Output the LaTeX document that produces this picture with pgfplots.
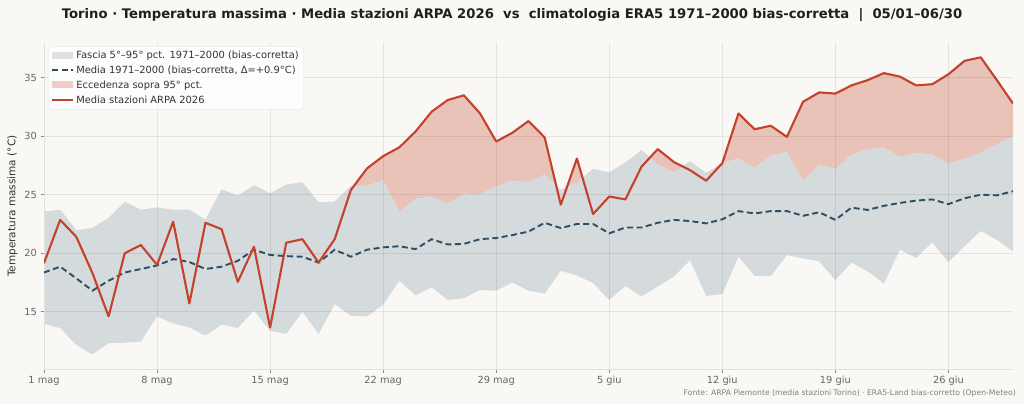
\documentclass[border=0pt]{standalone}
\usepackage{fontspec}
\setmainfont{DejaVu Sans}
\usepackage{pgfplots}
\pgfplotsset{compat=1.18}
\usepackage{pgfplotstable}
\usepgfplotslibrary{fillbetween}
\definecolor{bg}{HTML}{F9F8F5}
\definecolor{bandc}{HTML}{D5DADC}
\definecolor{pinkc}{HTML}{E9C2B8}
\definecolor{redc}{HTML}{C4422C}
\definecolor{meanc}{HTML}{2D4E64}
\definecolor{ticklab}{HTML}{666666}
\definecolor{txt}{HTML}{333333}
\pagecolor{bg}
\pgfplotstableread{
d low up mean obs
0 13.95 23.55 18.35 19.15
1 13.6 23.7 18.85 22.85
2 12.15 21.95 17.85 21.4
3 11.35 22.15 16.8 18.3
4 12.3 23.0 17.65 14.6
5 12.35 24.4 18.35 20.0
6 12.45 23.7 18.65 20.7
7 14.6 23.9 18.95 19.0
8 14.0 23.7 19.5 22.7
9 13.65 23.7 19.25 15.7
10 12.95 22.85 18.65 22.6
11 13.9 25.45 18.85 22.05
12 13.6 24.9 19.35 17.55
13 15.1 25.8 20.3 20.55
14 13.35 25.1 19.85 13.65
15 13.1 25.85 19.75 20.9
16 15.0 26.05 19.7 21.2
17 13.1 24.35 19.2 19.2
18 15.65 24.4 20.3 21.2
19 14.65 25.75 19.7 25.4
20 14.6 25.75 20.3 27.25
21 15.6 26.25 20.5 28.3
22 17.65 23.55 20.6 29.05
23 16.4 24.65 20.35 30.4
24 17.1 24.85 21.2 32.1
25 16.0 24.2 20.75 33.1
26 16.15 25.1 20.8 33.5
27 16.85 25.05 21.2 31.95
28 16.8 25.7 21.3 29.55
29 17.5 26.2 21.55 30.3
30 16.8 26.05 21.85 31.3
31 16.55 26.75 22.6 29.9
32 18.5 25.4 22.15 24.15
33 18.1 26.05 22.5 28.1
34 17.45 27.2 22.5 23.35
35 16.0 26.9 21.7 24.85
36 17.2 27.75 22.2 24.6
37 16.3 28.8 22.2 27.4
38 17.15 27.6 22.6 28.9
39 18.0 26.9 22.85 27.8
40 19.4 27.85 22.75 27.1
41 16.35 26.85 22.55 26.2
42 16.5 27.7 22.9 27.7
43 19.7 28.1 23.6 31.95
44 18.05 27.3 23.4 30.6
45 18.05 28.35 23.6 30.9
46 19.85 28.65 23.6 29.95
47 19.55 26.2 23.2 32.95
48 19.3 27.55 23.5 33.75
49 17.7 27.2 22.85 33.65
50 19.2 28.4 23.9 34.35
51 18.45 28.9 23.7 34.8
52 17.4 29.05 24.05 35.4
53 20.3 28.25 24.3 35.1
54 19.6 28.55 24.5 34.35
55 20.95 28.45 24.6 34.45
56 19.25 27.65 24.2 35.3
57 20.6 28.1 24.7 36.45
58 21.9 28.6 25.0 36.75
59 21.15 29.3 24.95 34.8
60 20.15 30.0 25.3 32.8
}\data
\pgfplotsset{
  myarea/.style={legend image code/.code={\fill[sharp corners, draw=none, ##1] (0pt,-3pt) rectangle (21pt,4pt);}},
  myline/.style={legend image code/.code={\draw[sharp corners, ##1] (0pt,0.5pt) -- (21pt,0.5pt);}},
}
\begin{document}
\begin{tikzpicture}
\path (0pt,0pt) rectangle (1024pt,404pt);
\begin{axis}[
  at={(44pt,35pt)}, anchor=south west,
  scale only axis, width=969pt, height=325.7pt,
  xmin=0, xmax=60, ymin=10.1, ymax=37.95,
  set layers,
  axis x line*=bottom, axis y line*=left,
  axis line style={draw=black!12, line width=0.8pt, -},
  xtick={0,7,14,21,28,35,42,49,56},
  xticklabels={1 mag,8 mag,15 mag,22 mag,29 mag,5 giu,12 giu,19 giu,26 giu},
  ytick={15,20,25,30,35},
  grid=major,
  grid style={draw=black, opacity=0.08, line width=0.8pt},
  tick align=outside, major tick length=3.5pt,
  tick style={draw=black!45, line width=0.8pt},
  ticklabel style={font=\fontsize{9.8}{11}\selectfont, text=ticklab},
  /pgf/number format/assume math mode=true,
  ylabel={Temperatura massima (°C)},
  ylabel style={font=\fontsize{10.5}{12}\selectfont, text=txt},
  legend cell align=left,
  legend style={at={(0,1)}, anchor=north west, xshift=4pt, yshift=-3pt,
    font=\fontsize{9.9}{11.5}\selectfont, text=txt,
    draw=black!12, fill=white, fill opacity=0.8, text opacity=1,
    rounded corners=2.5pt, inner xsep=3pt, inner ysep=2.6pt, row sep=1.9pt},
]
\addplot[draw=none, name path=up, forget plot] table[x=d, y=up] {\data};
\addplot[draw=none, name path=low, forget plot] table[x=d, y=low] {\data};
\addplot[draw=none, name path=obs, forget plot] table[x=d, y=obs] {\data};
\addplot[fill=pinkc, draw=none, forget plot] fill between[of=obs and up, on layer=axis background];
\addplot[fill=bandc, draw=none, forget plot] fill between[of=up and low, on layer=axis background];
\addplot[meanc, line width=1.9pt, dash pattern=on 6pt off 3.5pt, forget plot] table[x=d, y=mean] {\data};
\addplot[redc, line width=2.1pt, line join=round, forget plot] table[x=d, y=obs] {\data};
\addlegendimage{myarea, fill=bandc}
\addlegendentry{Fascia 5°–95° pct. 1971–2000 (bias-corretta)}
\addlegendimage{myline, meanc, line width=1.9pt, dash pattern=on 6pt off 3.5pt}
\addlegendentry{Media 1971–2000 (bias-corretta, Δ=+0.9°C)}
\addlegendimage{myarea, fill=pinkc}
\addlegendentry{Eccedenza sopra 95° pct.}
\addlegendimage{myline, redc, line width=2.1pt}
\addlegendentry{Media stazioni ARPA 2026}
\end{axis}
\node[anchor=base, font=\fontsize{13.2}{15}\bfseries, text=black!88] at (512pt,385.5pt)
  {Torino · Temperatura massima · Media stazioni ARPA 2026\ \ vs\ \ climatologia ERA5 1971–2000 bias-corretta\ \ |\ \ 05/01–06/30};
\node[anchor=base east, font=\fontsize{7.7}{9}\selectfont, text=black!50, inner sep=0pt] at (1016pt,8.5pt)
  {Fonte: ARPA Piemonte (media stazioni Torino) · ERA5-Land bias-corretto (Open-Meteo)};
\pgfresetboundingbox
\path (0pt,0pt) rectangle (1024pt,404pt);
\end{tikzpicture}
\end{document}
